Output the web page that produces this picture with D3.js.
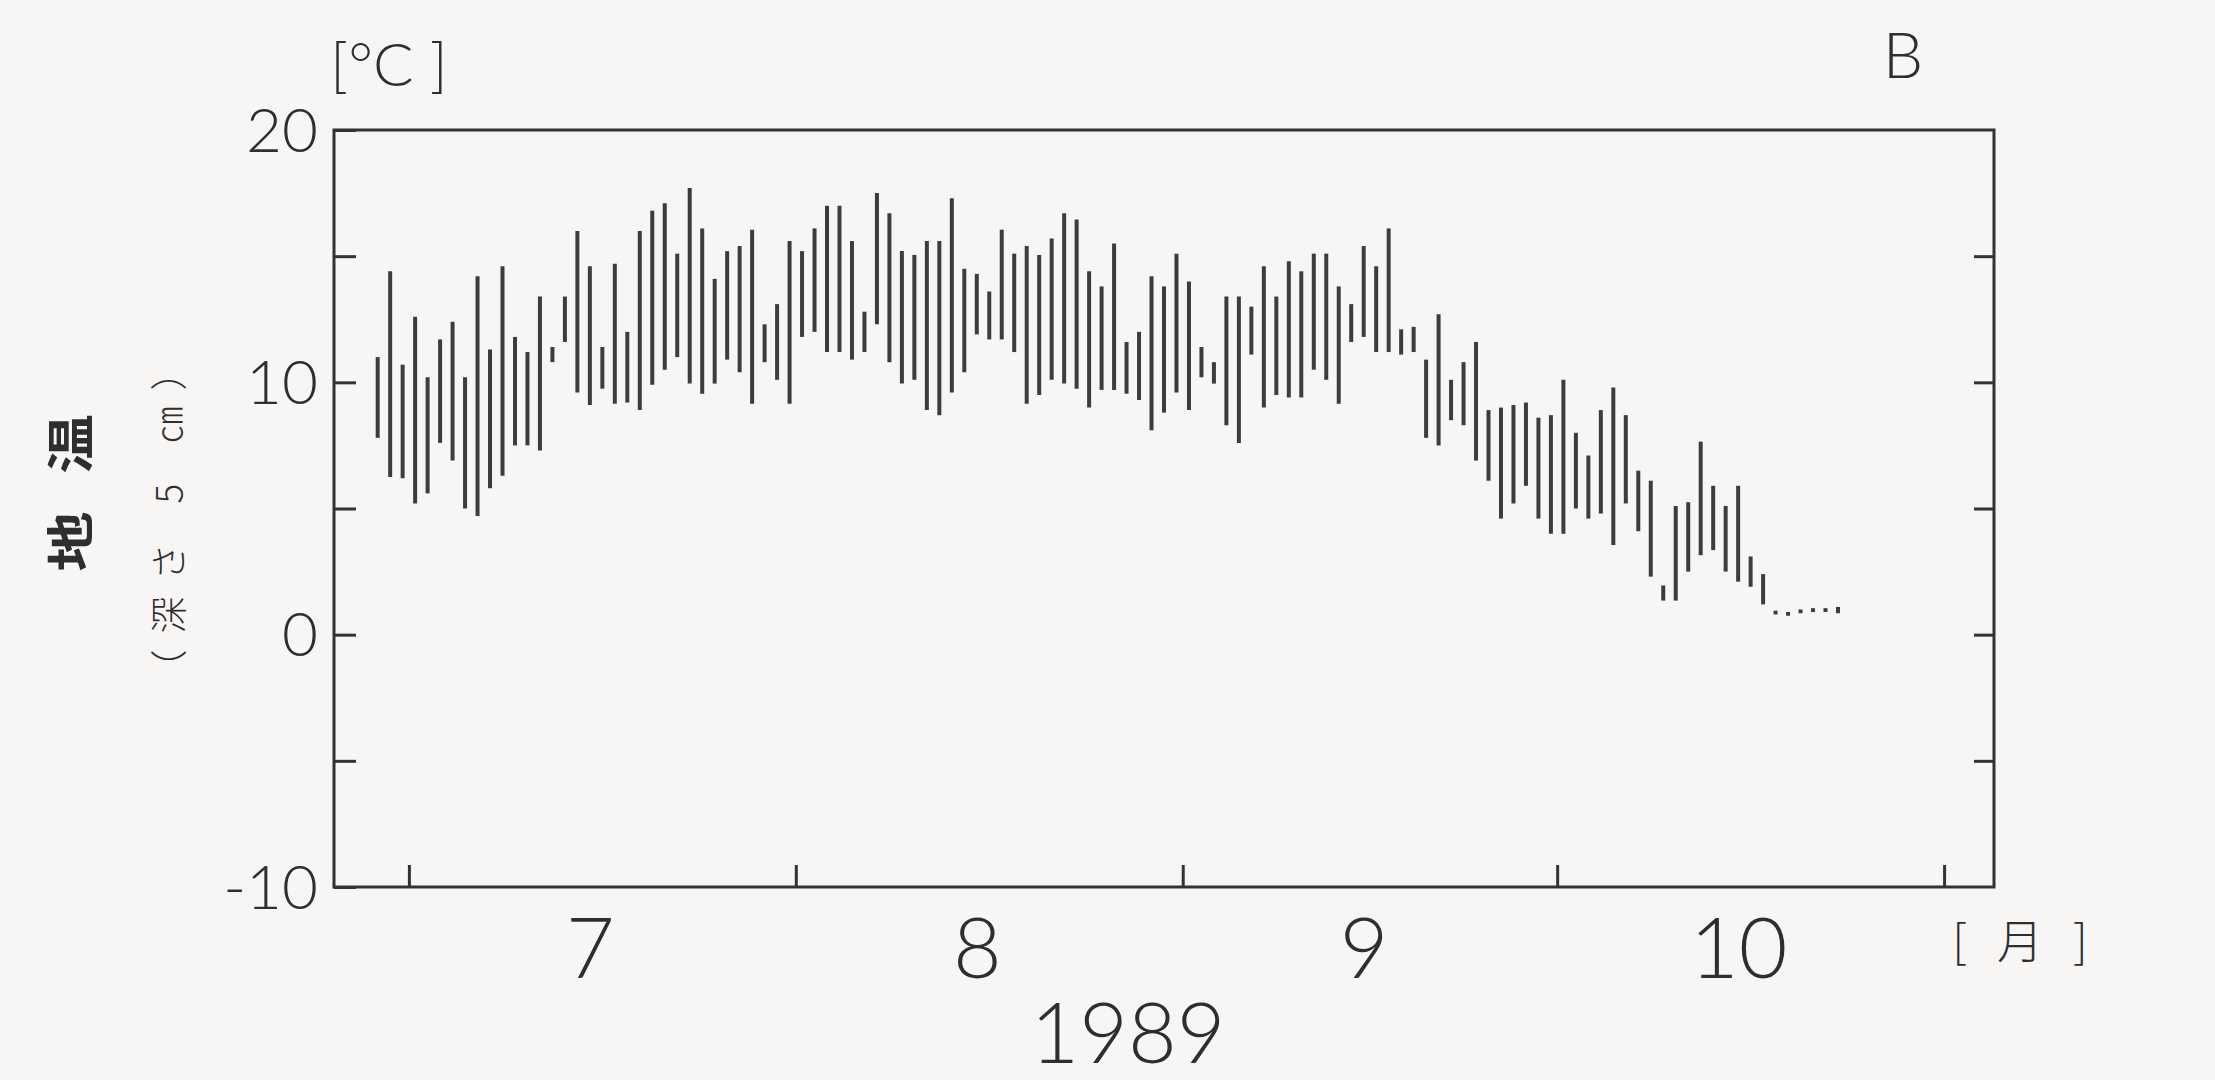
<!DOCTYPE html>
<html>
<head>
<meta charset="utf-8">
<script src="https://cdn.jsdelivr.net/npm/d3@7"></script>
<style>
  html, body { margin: 0; padding: 0; background: #f8f5f5; }
  svg { display: block; }
  .num { font-family: Lato, "Liberation Sans", sans-serif; font-weight: 300; fill: #2e2e2e; }
  .jp { font-family: "Noto Sans CJK JP", sans-serif; fill: #2e2e2e; }
</style>
</head>
<body>
<svg id="chart"></svg>
<script>
// daily soil temperature at 5 cm, max / min, starting 1989-06-28
var firstDay = new Date(1989, 5, 28);
var tmax = [
  11.0, 14.4, 10.7, 12.6, 10.2, 11.7, 12.4, 10.2, 14.2, 11.3,
  14.6, 11.8, 11.2, 13.4, 11.4, 13.4, 16.0, 14.6, 11.4, 14.7,
  12.0, 16.0, 16.8, 17.1, 15.1, 17.7, 16.1, 14.1, 15.2, 15.4,
  16.05, 12.3, 13.1, 15.6, 15.2, 16.1, 17.0, 17.0, 15.6, 12.8,
  17.5, 16.7, 15.2, 15.05, 15.6, 15.6, 17.3, 14.5, 14.3, 13.6,
  16.05, 15.1, 15.4, 15.05, 15.7, 16.7, 16.45, 14.4, 13.8, 15.5,
  11.6, 12.0, 14.2, 13.8, 15.1, 14.0, 11.4, 10.8, 13.4, 13.4,
  13.0, 14.6, 13.4, 14.8, 14.4, 15.1, 15.1, 13.8, 13.1, 15.4,
  14.6, 16.1, 12.1, 12.2, 10.9, 12.7, 10.1, 10.8, 11.6, 8.9,
  9.0, 9.1, 9.2, 8.6, 8.7, 10.1, 8.0, 7.1, 8.9, 9.8,
  8.7, 6.5, 6.1, 1.95, 5.1, 5.25, 7.65, 5.9, 5.1, 5.9,
  3.1, 2.4, 0.95, 0.9, 1.0, 1.05, 1.05, 1.1
];
var tmin = [
  7.8, 6.25, 6.2, 5.2, 5.6, 7.6, 6.9, 5.0, 4.7, 5.8,
  6.3, 7.5, 7.5, 7.3, 10.8, 11.6, 9.6, 9.1, 9.75, 9.15,
  9.2, 8.9, 9.9, 10.5, 11.0, 9.95, 9.55, 9.95, 10.9, 10.4,
  9.15, 10.8, 10.1, 9.15, 11.8, 12.0, 11.2, 11.2, 10.9, 11.2,
  12.3, 10.8, 9.95, 10.1, 8.9, 8.7, 9.6, 10.4, 11.9, 11.7,
  11.7, 11.2, 9.15, 9.5, 10.1, 9.95, 9.75, 9.0, 9.7, 9.7,
  9.55, 9.3, 8.1, 8.8, 9.6, 8.9, 10.2, 9.95, 8.3, 7.6,
  11.1, 9.0, 9.5, 9.4, 9.4, 10.5, 10.1, 9.15, 11.6, 11.8,
  11.2, 11.2, 11.1, 11.2, 7.8, 7.5, 8.5, 8.3, 6.9, 6.1,
  4.6, 5.2, 5.9, 4.6, 4.0, 4.0, 5.0, 4.6, 4.8, 3.55,
  5.2, 4.1, 2.3, 1.35, 1.35, 2.5, 3.15, 3.35, 2.5, 2.1,
  1.9, 1.2, 0.8, 0.75, 0.85, 0.9, 0.9, 0.85
];
var yTicks = [-10, -5, 0, 5, 10, 15, 20];
var yTickLabels = [20, 10, 0, -10];
var monthStarts = [6, 7, 8, 9, 10].map(function (m) { return new Date(1989, m, 1); });
var monthLabels = ["7", "8", "9", "10"];

var width = 2215, height = 1080;
var plotLeft = 334, plotRight = 1994, plotTop = 130, plotBottom = 887;

var svg = d3.select("#chart").attr("width", width).attr("height", height);

var x = d3.scaleTime()
  .domain([new Date(1989, 5, 25), new Date(1989, 10, 5)])
  .range([plotLeft, plotRight]);
var y = d3.scaleLinear().domain([-10, 20]).range([plotBottom, plotTop]);

var days = tmax.map(function (v, i) {
  return { date: d3.timeHour.offset(d3.timeDay.offset(firstDay, i), 12), hi: v, lo: tmin[i] };
});

// ! bars
svg.append("g")
  .selectAll("line")
  .data(days)
  .enter()
  .append("line")
  .attr("x1", function (d) { return x(d.date); })
  .attr("x2", function (d) { return x(d.date); })
  .attr("y1", function (d) { return y(d.lo); })
  .attr("y2", function (d) { return y(d.hi); })
  .attr("stroke", "#3c3c3c")
  .attr("stroke-width", 4);

// ! axes (ticks point inwards)
var gl = svg.append("g")
  .attr("transform", "translate(" + plotLeft + ",0)")
  .call(d3.axisLeft(y).tickValues(yTicks).tickSize(-22).tickPadding(16)
    .tickFormat(function (d) { return yTickLabels.indexOf(d) >= 0 ? d : ""; }));
var gr = svg.append("g")
  .attr("transform", "translate(" + plotRight + ",0)")
  .call(d3.axisRight(y).tickValues(yTicks.slice(1, -1)).tickSize(-20).tickFormat(""));
var gb = svg.append("g")
  .attr("transform", "translate(0," + plotBottom + ")")
  .call(d3.axisBottom(x).tickValues(monthStarts).tickSize(-22).tickFormat(""));
var gm = svg.append("g")
  .attr("transform", "translate(0," + plotBottom + ")")
  .call(d3.axisBottom(x)
    .tickValues(monthLabels.map(function (m) { return new Date(1989, +m - 1, 15, 12); }))
    .tickSize(0).tickPadding(31)
    .tickFormat(function (d, i) { return monthLabels[i]; }));

[gl, gr, gb, gm].forEach(function (g) {
  g.select(".domain").remove();
  g.selectAll(".tick line").attr("stroke", "#333").attr("stroke-width", 3);
  g.selectAll(".tick text").attr("class", "num").attr("fill", null);
});
gl.selectAll(".tick text").style("font-size", "62px").attr("dy", "0.34em");
gm.selectAll(".tick text").style("font-size", "84px");

svg.append("rect")
  .attr("x", plotLeft).attr("y", plotTop)
  .attr("width", plotRight - plotLeft).attr("height", plotBottom - plotTop)
  .attr("fill", "none").attr("stroke", "#333").attr("stroke-width", 3);

// ! labels
svg.append("text").attr("class", "num")
  .attr("x", 389).attr("y", 86).attr("text-anchor", "middle")
  .style("font-size", "60px").text("[°C ]");
svg.append("text").attr("class", "num")
  .attr("x", 1903).attr("y", 78).attr("text-anchor", "middle")
  .style("font-size", "64px").text("B");
svg.append("text").attr("class", "num")
  .attr("x", 1128).attr("y", 1063).attr("text-anchor", "middle")
  .style("font-size", "84px").text("1989");
svg.append("text").attr("class", "jp")
  .attr("x", 2025).attr("y", 958).attr("text-anchor", "middle")
  .style("font-size", "46px").style("font-weight", 300)
  .style("letter-spacing", "10px")
  .text("[ 月 ]");

svg.append("text").attr("class", "jp")
  .attr("transform", "translate(88,474) rotate(-90) scale(1.25,1)")
  .attr("text-anchor", "middle")
  .style("font-size", "48px").style("font-weight", 700)
  .style("letter-spacing", "30px")
  .text("地温");
svg.append("text").attr("class", "jp")
  .attr("transform", "translate(183,512) rotate(-90)")
  .attr("text-anchor", "middle")
  .style("font-size", "37px").style("font-weight", 300)
  .style("letter-spacing", "16px")
  .text("（深さ 5 ㎝）");
</script>
</body>
</html>
